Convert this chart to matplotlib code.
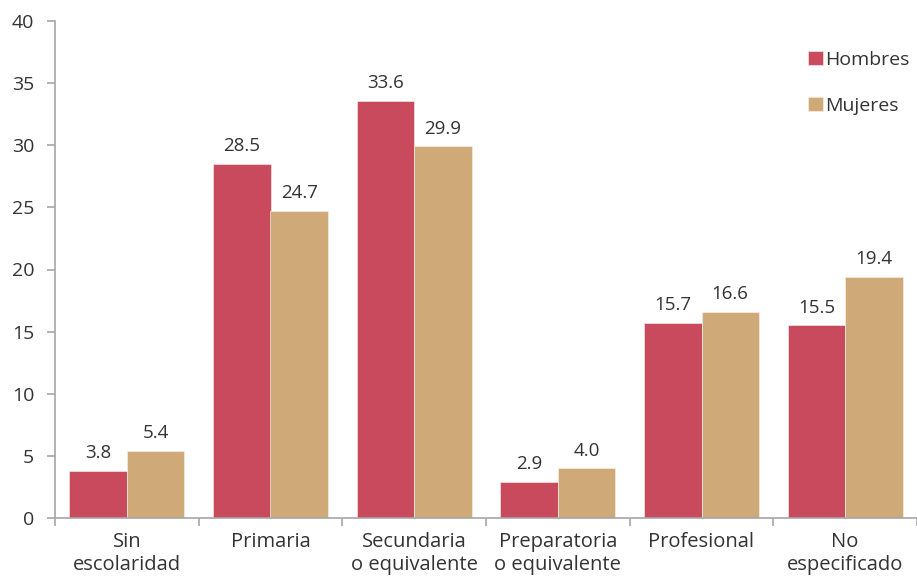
import numpy as np
import matplotlib
matplotlib.use("Agg")
from matplotlib import pyplot as plt

categorias = ["Sin\nescolaridad", "Primaria", "Secundaria\no equivalente",
              "Preparatoria\no equivalente", "Profesional", "No\nespecificado"]
hombres = [3.8, 28.5, 33.6, 2.9, 15.7, 15.5]
mujeres = [5.4, 24.7, 29.9, 4.0, 16.6, 19.4]

plt.rcParams['font.family'] = ['Open Sans', 'DejaVu Sans']
col_h = "#C84A5C"
col_m = "#CFA977"
gris = "#A6A6A6"
txt = "#333333"

fig = plt.figure(figsize=(9.17, 5.76), dpi=100)
ax = fig.add_axes([55 / 917, 58 / 576, 1 - 55 / 917, 497 / 576])

x = np.arange(len(categorias))
w = 0.4
b1 = ax.bar(x - w / 2, hombres, w, color=col_h, label="Hombres",
            edgecolor="#f2e6e6", linewidth=0.5)
b2 = ax.bar(x + w / 2, mujeres, w, color=col_m, label="Mujeres",
            edgecolor="#f5eee2", linewidth=0.5)

for bars, vals in [(b1, hombres), (b2, mujeres)]:
    for b, v in zip(bars, vals):
        ax.text(b.get_x() + b.get_width() / 2, v + 0.7, f"{v:.1f}",
                ha="center", va="bottom", fontsize=13.5, color=txt)

ax.set_ylim(0, 40)
ax.set_xlim(-0.5, 5.44)
ax.set_yticks(range(0, 41, 5))
ax.set_xticks(x)
ax.set_xticklabels(categorias, fontsize=14.5, color=txt, va="top", linespacing=1.2)
ax.set_xticks(np.arange(-0.5, 6, 1), minor=True)
ax.tick_params(axis="x", which="major", length=0, pad=10)
ax.tick_params(axis="x", which="minor", length=6, color=gris, width=1.2)
ax.tick_params(axis="y", length=6, color=gris, width=1.2, labelsize=14,
               labelcolor=txt, pad=9)

for s in ["top", "right"]:
    ax.spines[s].set_visible(False)
for s in ["left", "bottom"]:
    ax.spines[s].set_color(gris)
    ax.spines[s].set_linewidth(1.2)

ax.legend(loc="upper right", bbox_to_anchor=(1.012, 0.975), frameon=False,
          fontsize=14, handlelength=0.75, handleheight=0.75, handletextpad=0.15,
          labelspacing=1.45, labelcolor=txt)

fig.savefig("out.png", dpi=100)
